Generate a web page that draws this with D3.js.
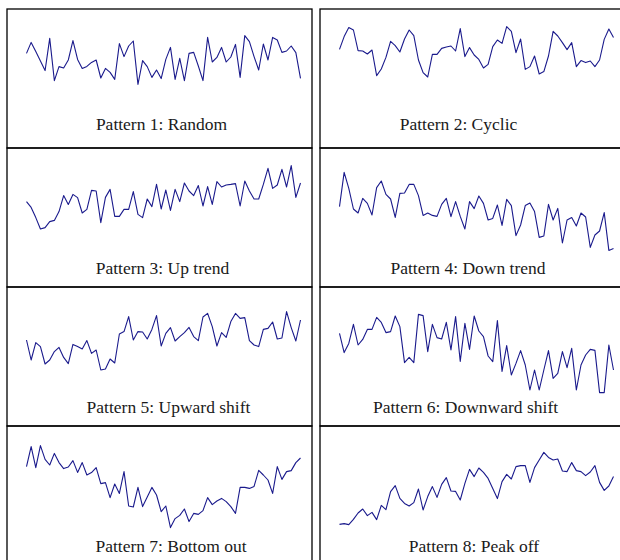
<!DOCTYPE html>
<html><head><meta charset="utf-8">
<script src="https://cdn.jsdelivr.net/npm/d3@7"></script>
<style>body{margin:0;background:#fff}</style>
</head><body><svg id="c" width="620" height="560"></svg>
<script>
const titles = ["Pattern 1: Random","Pattern 2: Cyclic","Pattern 3: Up trend","Pattern 4: Down trend",
  "Pattern 5: Upward shift","Pattern 6: Downward shift","Pattern 7: Bottom out","Pattern 8: Peak off"];
const timeSteps = d3.range(1, 61);

const random = [42.8,48.3,43.7,39,34.2,50.3,29.2,36.2,35.5,39.5,49.2,39.8,35.3,36.3,38.3,39.5,30.5,35.3,33.3,29.8,
  47.7,41.2,46.5,49,27.3,39.2,36.2,30.8,34.5,30.2,39.8,45.8,29.8,40.3,29.2,42.8,43.3,36.5,29.2,50.8,
  38.5,40.8,45.8,38.5,41,47.3,30.8,51.7,48.7,41.2,34.5,47.5,39.5,50.8,49.5,43.3,44,46.5,43.2,30.3];
const cyclic = [44.8,51.2,55.7,54.5,44.2,44,42.5,44.5,31.7,35,40.8,48.8,46.7,43.5,50,54.5,51.7,39.5,33.2,31,
  42.3,42.3,45.3,46,46.5,44,55.2,41.2,45.7,42,39.8,35.5,37.3,46.2,49.5,47.8,56.2,53.8,43.2,50,
  34.8,36.2,41.5,32.5,33.7,41.5,53.8,51.5,48.2,44.7,48.2,36.2,39.2,38.2,39,36.2,39.5,49.8,55,50.8];
const upTrend = [38.2,35.3,30.2,24.5,25.2,28.2,28.8,33.2,41.2,36.8,41.8,40.2,32.5,34.3,43.8,43.5,27.7,40.3,44.3,30.8,
  30.8,34.3,34.3,43.2,31.8,30.2,39.5,35.7,46.8,34.5,44,33.8,44.3,38.2,47.5,43.5,41.2,46.2,36,45.7,
  36.8,48.2,45.5,46.5,46.8,47.2,36,48.5,43.5,39.5,39.5,46.8,54.8,44.8,46.5,54.3,45.5,56.2,40.3,47.5];
const downTrend = [35.7,52.8,44.8,34.5,32.5,39.8,37.3,31.5,45.2,48.5,41.8,39.5,30.3,42.3,42.5,46.8,46.8,41.2,31.3,32.5,
  31.3,30.8,36.8,39.8,30.7,38.2,30.8,24.5,38.2,34.7,41,37.3,29,29.8,36.5,26.3,39.3,36.2,21.2,26.5,
  36.2,37.5,33.2,20.3,21,36.8,29,34.8,17.5,29,30.2,26,32.5,30.5,15.3,21.5,23.5,32.7,13.8,14.7];
const upwardShift = [38.5,28.5,37.2,35.2,26.5,28.5,32.7,34.8,29.8,26.7,36.3,35.2,34,38.2,31.8,33.5,23.5,24,29,27,
  41.5,42.7,50.2,38.5,42.7,42.5,39,43.8,50.7,35.5,41.8,44.7,38,40.2,42.2,44.8,40.2,38.2,50,51.8,
  45.2,35.5,42.2,39.8,47.7,51.8,49.3,49.7,38.2,36,35.2,43.8,44.3,47.5,39,39.5,52.7,44.7,38,48.5];
const downwardShift = [41.8,32.2,36.8,46.3,36,38.8,43.8,43.8,49.8,47.3,42.2,42.7,50.5,45.2,27.2,29.8,27.2,51.3,50.7,32.7,
  46.3,39.7,39,47.3,33.5,50.2,27.8,46.8,33.8,50.5,43,40.2,30.5,27.7,48.2,22.8,35.7,21,26.8,33.2,
  26,13.5,23.5,13.5,23.5,33.2,19.3,21.8,32.7,24.7,34.3,13.5,26,31,33.8,33.3,12.2,12.2,36,23.5];
const bottomOut = [44.7,54.7,44.2,55.2,48.3,45.5,51.3,46.7,43.7,44.5,47.7,41.8,46.7,40.5,41.7,44.2,36.2,36.7,29.2,36,
  31.3,42.2,25,24.5,34.3,24.7,29.5,34.3,30.5,22.2,25,14.2,18.7,20.3,23.5,17.2,21.3,20.8,22.7,29.2,
  25.7,27.5,28.8,27.2,24.7,21.3,34.3,34.3,33.8,34.8,42.8,40.5,38,31.3,44.7,38.3,42.2,42.7,46.7,49];
const peakOff = [15.8,16.2,15.7,18.3,21.5,23.5,20.2,21.8,18.2,25.3,23.2,32.2,35.2,28.8,26.3,25,26.7,33.5,23,29.7,
  34.7,29.3,35.8,39.2,32.5,32.3,28,36.3,43.3,39.7,44,41.8,38.8,33.8,28.7,37.2,40.8,38.5,44.7,45.2,
  45.2,36.8,44.2,48,51.8,49.3,48,48.5,42.5,42.2,46.7,42.7,42.2,40.2,42,45.2,36.8,32.8,35,39.7];

const series = [random, cyclic, upTrend, downTrend, upwardShift, downwardShift, bottomOut, peakOff];

const svg = d3.select("#c");
const colX = [7, 320], rowY = [9, 148, 287, 426], panelW = 305, panelH = 139;
const labelX = [154.5, 138.5, 155.5, 148, 161.5, 145.5, 164, 154];
const labelY = [121, 121, 126, 126, 125.5, 125.5, 125.5, 125.5];

const x = d3.scaleLinear().domain([1, 60]).range([19.5, 293.5]);
const y = d3.scaleLinear().domain([0, 65]).range([130, 0]);
const line = d3.line().x((d, j) => x(timeSteps[j])).y(d => y(d));

series.forEach((vals, i) => {
  const g = svg.append("g")
    .attr("transform", `translate(${colX[i % 2]},${rowY[Math.floor(i / 2)]})`);
  g.append("rect").attr("width", panelW).attr("height", panelH)
    .attr("fill", "none").attr("stroke", "#000").attr("stroke-width", 1.3);
  g.append("path").datum(vals).attr("d", line)
    .attr("fill", "none").attr("stroke", "#1a1a8c").attr("stroke-width", 1.1)
    .attr("stroke-linejoin", "round");
  g.append("text").attr("x", labelX[i]).attr("y", labelY[i])
    .attr("text-anchor", "middle")
    .attr("font-family", "'Liberation Serif', 'Times New Roman', serif")
    .attr("font-size", "17.5px").attr("fill", "#1a1a1a")
    .text(titles[i]);
});
</script></body></html>
